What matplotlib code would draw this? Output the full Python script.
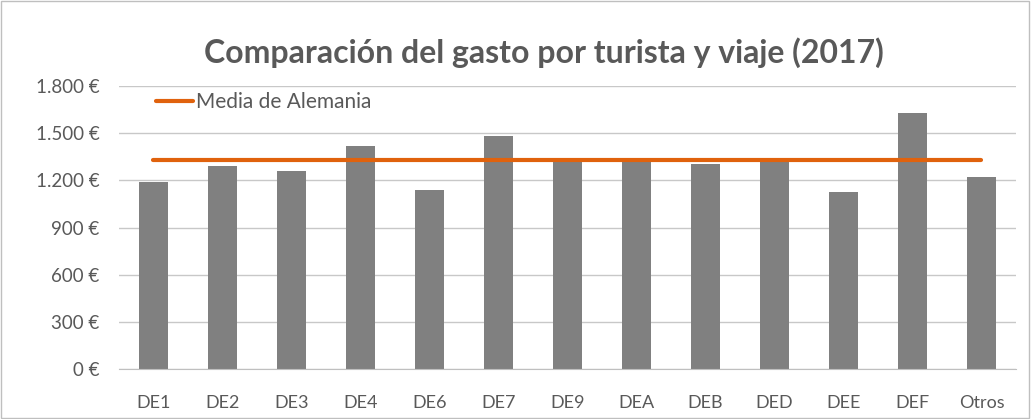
import matplotlib
matplotlib.use('Agg')
import matplotlib.pyplot as plt
from matplotlib.patches import Rectangle
from matplotlib.ticker import FuncFormatter

# datos
regiones = ['DE1', 'DE2', 'DE3', 'DE4', 'DE6', 'DE7', 'DE9', 'DEA', 'DEB', 'DED', 'DEE', 'DEF', 'Otros']
gasto = [1189, 1293, 1257, 1416, 1141, 1483, 1336, 1336, 1304, 1336, 1124, 1631, 1219]
media_alemania = [1327] * len(regiones)

plt.rcParams['font.family'] = ['Lato', 'DejaVu Sans']
gris_texto = '#595959'

fig = plt.figure(figsize=(10.31, 4.19), dpi=100)
ax = fig.add_axes([0.1154, 0.1193, 0.870, 0.6754])

x = range(len(regiones))
ax.bar(x, gasto, width=0.41, color='#808080', zorder=2)
ax.plot(x, media_alemania, color='#E0620D', lw=3, solid_capstyle='round', zorder=3,
        label='Media de Alemania')

ax.set_xlim(-0.5, len(regiones) - 0.5)
ax.set_ylim(0, 1800)
ax.set_yticks(range(0, 1801, 300))
ax.yaxis.set_major_formatter(FuncFormatter(lambda v, p: '{:,.0f} €'.format(v).replace(',', '.')))
ax.set_xticks(list(x))
ax.set_xticklabels(regiones)
ax.grid(axis='y', color='#C8C8C8', lw=1, zorder=0)
for s in ['top', 'right', 'left']:
    ax.spines[s].set_visible(False)
ax.spines['bottom'].set_color('#BFBFBF')
ax.tick_params(length=0, labelsize=13, colors=gris_texto)
ax.tick_params(axis='x', pad=19)
ax.tick_params(axis='y', pad=14, labelsize=13.5)

leg = ax.legend(loc='upper left', bbox_to_anchor=(0.025, 1.03), frameon=False, fontsize=15,
                handlelength=1.8, handletextpad=0.1, borderaxespad=0.3)
for t in leg.get_texts():
    t.set_color(gris_texto)

fig.text(0.528, 0.875, 'Comparación del gasto por turista y viaje (2017)', ha='center', va='center',
         fontsize=23, fontweight='bold', color=gris_texto)

fig.patches.append(Rectangle((0.001, 0.002), 0.997, 0.995, transform=fig.transFigure,
                             fill=False, edgecolor='#BFBFBF', lw=1))

fig.savefig('out.png', dpi=100)
